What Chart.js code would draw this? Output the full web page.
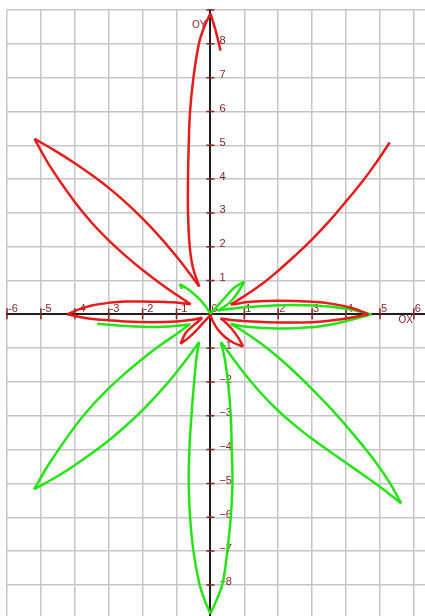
<!DOCTYPE html>
<html>
<head>
<meta charset="utf-8">
<script src="https://cdn.jsdelivr.net/npm/chart.js@4.4.1/dist/chart.umd.min.js"></script>
<style>
  html, body { margin: 0; padding: 0; background: #fff; overflow: hidden; }
  #wrap { position: relative; width: 425px; height: 616px; }
</style>
</head>
<body>
<div id="wrap"><canvas id="curveChart"></canvas></div>
<script>
// axis ticks
const xTicks = { min: -6, max: 6.33, step: 1 };
const yTicks = { min: -8.92, max: 9, step: 1 };

// red curve, one array per leaf edge (x, y pairs)
const redTopStub = [[0.30, 7.80], [0.16, 8.37], [0.0, 8.9]];
const redTopLeaf = [[0.0, 8.9], [-0.18, 8.5], [-0.33, 8.05], [-0.5, 7.0], [-0.6, 6.0], [-0.64, 5.0], [-0.66, 4.0], [-0.66, 3.0], [-0.61, 2.0], [-0.52, 1.4], [-0.33, 0.82]];
const red135Upper = [[-0.33, 0.82], [-0.62, 1.22], [-1.0, 1.71], [-1.5, 2.3], [-2.0, 2.83], [-2.5, 3.31], [-3.0, 3.74], [-3.5, 4.12], [-4.0, 4.47], [-4.6, 4.85], [-5.19, 5.19]];
const red135Lower = [[-5.19, 5.19], [-4.72, 4.36], [-4.0, 3.32], [-3.5, 2.71], [-3.0, 2.19], [-2.5, 1.73], [-2.0, 1.31], [-1.5, 0.93], [-1.0, 0.58], [-0.58, 0.3]];
const red180Upper = [[-0.58, 0.3], [-1.0, 0.35], [-1.5, 0.37], [-2.0, 0.38], [-2.5, 0.38], [-3.0, 0.34], [-3.5, 0.26], [-3.9, 0.14], [-4.23, 0.0]];
const red180Lower = [[-4.23, 0.0], [-3.7, -0.11], [-3.2, -0.16], [-2.5, -0.21], [-1.72, -0.23], [-1.0, -0.21], [-0.53, -0.16], [-0.24, -0.1]];
const red225Outer = [[-0.24, -0.1], [-0.33, -0.18], [-0.55, -0.37], [-0.73, -0.55], [-0.88, -0.87]];
const red225Inner = [[-0.88, -0.87], [-0.63, -0.68], [-0.42, -0.48], [-0.22, -0.26], [0.0, -0.02]];
const red315Inner = [[0.0, -0.02], [0.08, -0.22], [0.22, -0.45], [0.42, -0.66], [0.68, -0.84], [0.97, -0.95]];
const red315Outer = [[0.97, -0.95], [0.8, -0.66], [0.62, -0.42], [0.45, -0.24], [0.3, -0.12]];
const red0Lower = [[0.3, -0.12], [0.6, -0.17], [1.0, -0.2], [2.0, -0.24], [3.0, -0.23], [3.96, -0.13], [4.66, 0.0]];
const red0Upper = [[4.66, 0.0], [4.2, 0.18], [3.6, 0.31], [3.0, 0.37], [2.0, 0.4], [1.2, 0.37], [0.6, 0.29]];
const red45Arm = [[0.6, 0.29], [1.0, 0.54], [1.5, 0.88], [2.0, 1.29], [2.5, 1.74], [3.0, 2.22], [3.5, 2.75], [4.05, 3.4], [4.5, 3.95], [4.9, 4.5], [5.29, 5.08]];

// green curve
const green180Part = [[-3.34, -0.28], [-2.7, -0.33], [-2.0, -0.37], [-1.4, -0.37], [-0.9, -0.33], [-0.6, -0.29]];
const green225Upper = [[-0.6, -0.29], [-1.0, -0.58], [-1.5, -0.93], [-2.0, -1.31], [-2.5, -1.73], [-3.0, -2.19], [-3.5, -2.71], [-4.0, -3.32], [-4.72, -4.36], [-5.2, -5.17]];
const green225Lower = [[-5.2, -5.17], [-4.6, -4.84], [-4.0, -4.46], [-3.5, -4.11], [-3.0, -3.73], [-2.5, -3.3], [-2.0, -2.83], [-1.5, -2.3], [-1.0, -1.71], [-0.62, -1.22], [-0.33, -0.82]];
const green270Left = [[-0.33, -0.82], [-0.4, -1.2], [-0.48, -2.0], [-0.56, -3.0], [-0.62, -4.0], [-0.64, -5.0], [-0.6, -6.0], [-0.5, -7.0], [-0.33, -7.95], [-0.17, -8.45], [0.0, -8.85]];
const green270Right = [[0.0, -8.85], [0.18, -8.45], [0.36, -7.95], [0.5, -7.0], [0.6, -6.0], [0.65, -5.0], [0.63, -4.0], [0.6, -3.0], [0.52, -2.0], [0.42, -1.3], [0.31, -0.82]];
const green315Lower = [[0.31, -0.82], [0.65, -1.28], [1.0, -1.75], [1.5, -2.34], [2.0, -2.85], [2.5, -3.29], [3.0, -3.68], [3.5, -4.04], [4.0, -4.39], [4.5, -4.74], [5.0, -5.1], [5.63, -5.59]];
const green315Upper = [[5.63, -5.59], [5.3, -5.0], [4.94, -4.46], [4.5, -3.89], [4.05, -3.35], [3.5, -2.73], [3.0, -2.21], [2.5, -1.72], [2.0, -1.27], [1.5, -0.87], [1.0, -0.52], [0.6, -0.28]];
const green0Lower = [[0.6, -0.28], [1.0, -0.36], [1.99, -0.42], [2.98, -0.38], [3.5, -0.31], [3.96, -0.21], [4.75, 0.0]];
const green0Upper = [[4.75, 0.0], [4.05, 0.16], [3.07, 0.26], [2.08, 0.27], [1.01, 0.21], [0.5, 0.15], [0.21, 0.11]];
const green45Lower = [[0.21, 0.11], [0.4, 0.22], [0.6, 0.38], [0.82, 0.66], [1.0, 0.97]];
const green45Upper = [[1.0, 0.97], [0.72, 0.8], [0.45, 0.52], [0.22, 0.26], [0.0, 0.02]];
const green135 = [[0.0, 0.02], [-0.15, 0.25], [-0.35, 0.48], [-0.63, 0.72], [-0.9, 0.9]];
const green135Hook = [[-0.9, 0.9], [-0.84, 0.76]];

const redEdges = [redTopStub, redTopLeaf, red135Upper, red135Lower, red180Upper, red180Lower,
  red225Outer, red225Inner, red315Inner, red315Outer, red0Lower, red0Upper, red45Arm];
const greenEdges = [green180Part, green225Upper, green225Lower, green270Left, green270Right,
  green315Lower, green315Upper, green0Lower, green0Upper, green45Lower, green45Upper, green135, green135Hook];

const RED = "rgb(228, 28, 28)";
const GREEN = "rgb(36, 228, 22)";
const LABEL = "#8b2323";
const FONT = "Liberation Sans, Arial, sans-serif";

function edgeDataset(points, color) {
    return {
        data: points.map(p => ({ x: p[0], y: p[1] })),
        borderColor: color,
        borderWidth: 2.5,
        pointRadius: 0,
        showLine: true,
        tension: 0.4,
        fill: false
    };
}

// red first so it is drawn on top
const datasets = redEdges.map(e => edgeDataset(e, RED))
    .concat(greenEdges.map(e => edgeDataset(e, GREEN)));

function noPadding(scale) {
    scale.paddingLeft = 0;
    scale.paddingRight = 0;
    scale.paddingTop = 0;
    scale.paddingBottom = 0;
}

function gridColor(ctx) {
    return ctx.tick && ctx.tick.value === 0 ? "rgba(0,0,0,0)" : "#c6c6c6";
}

// moves tick labels next to the centred axes and adds the tick crosses and axis names
const axisDecor = {
    id: "axisDecor",
    beforeDraw(chart) {
        const sx = chart.scales.x, sy = chart.scales.y;
        const x0 = sx.getPixelForValue(0), y0 = sy.getPixelForValue(0);
        sx.getLabelItems(chart.chartArea).forEach(item => {
            if (item.moved) return;
            item.moved = true;
            const o = item.options;
            o.translation = [o.translation[0] + 1, y0 - 5.5];
            o.textAlign = "left";
            o.textBaseline = "middle";
            item.textOffset = 0;
        });
        sy.getLabelItems(chart.chartArea).forEach(item => {
            if (item.moved) return;
            item.moved = true;
            const o = item.options;
            o.translation = [x0 + 9, o.translation[1] - 2.5];
            o.textAlign = "left";
            o.textBaseline = "middle";
            item.textOffset = 0;
        });
    },
    beforeDatasetsDraw(chart) {
        const ctx = chart.ctx;
        const sx = chart.scales.x, sy = chart.scales.y;
        const x0 = sx.getPixelForValue(0), y0 = sy.getPixelForValue(0);
        ctx.save();
        ctx.strokeStyle = LABEL;
        ctx.lineWidth = 1.5;
        ctx.beginPath();
        sx.ticks.forEach(t => {
            const px = sx.getPixelForValue(t.value);
            ctx.moveTo(px, y0 - 6);
            ctx.lineTo(px, y0 + 5);
        });
        sy.ticks.forEach(t => {
            const py = sy.getPixelForValue(t.value);
            ctx.moveTo(x0 - 4, py);
            ctx.lineTo(x0 + 4, py);
        });
        ctx.stroke();
        ctx.fillStyle = LABEL;
        ctx.font = "10px " + FONT;
        ctx.textBaseline = "middle";
        ctx.textAlign = "left";
        ctx.fillText("OX", sx.getPixelForValue(5.55), y0 + 6);
        ctx.textAlign = "right";
        ctx.fillText("OY", x0 - 4, sy.getPixelForValue(8.55));
        ctx.restore();
    }
};

new Chart(document.getElementById("curveChart"), {
    type: "scatter",
    data: { datasets: datasets },
    options: {
        responsive: true,
        maintainAspectRatio: false,
        animation: false,
        events: [],
        layout: { padding: { left: 7, top: 10, right: 0, bottom: 0 } },
        plugins: { legend: { display: false }, tooltip: { enabled: false } },
        scales: {
            x: {
                type: "linear",
                min: xTicks.min,
                max: xTicks.max,
                position: { y: 0 },
                afterFit: noPadding,
                grid: { color: gridColor, lineWidth: 1.5, drawTicks: false },
                border: { display: true, color: "#1e1e1e", width: 2 },
                ticks: {
                    stepSize: xTicks.step,
                    includeBounds: false,
                    autoSkip: false,
                    maxRotation: 0,
                    color: LABEL,
                    font: { family: FONT, size: 11 },
                    callback: v => String(v)
                }
            },
            y: {
                type: "linear",
                min: yTicks.min,
                max: yTicks.max,
                position: { x: 0 },
                afterFit: noPadding,
                grid: { color: gridColor, lineWidth: 1.5, drawTicks: false },
                border: { display: true, color: "#1e1e1e", width: 2 },
                ticks: {
                    stepSize: yTicks.step,
                    includeBounds: false,
                    autoSkip: false,
                    color: LABEL,
                    font: { family: FONT, size: 11 },
                    callback: v => (v === 0 || v === 9) ? "" : (v < 0 ? "\u2212" + (-v) : String(v))
                }
            }
        }
    },
    plugins: [axisDecor]
});
</script>
</body>
</html>
